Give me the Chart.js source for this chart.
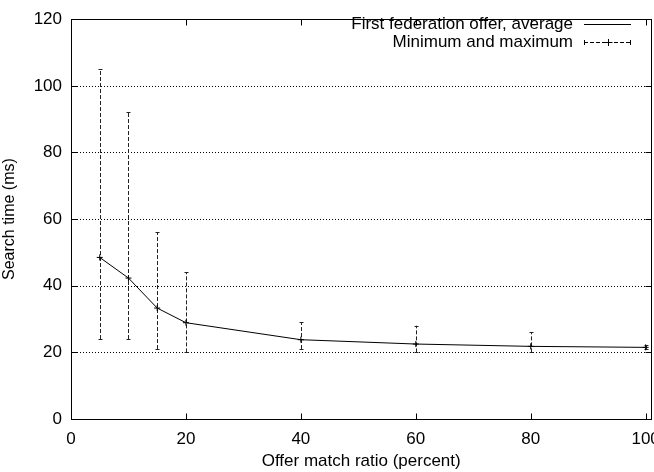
<!DOCTYPE html>
<html>
<head>
<meta charset="utf-8">
<script src="https://cdn.jsdelivr.net/npm/chart.js@4.4.0/dist/chart.umd.min.js"></script>
<style>
  html, body { margin: 0; padding: 0; background: #fff; overflow: hidden; }
  #wrap { width: 670px; height: 472px; }
</style>
</head>
<body>
<div id="wrap"><canvas id="grafico" width="670" height="472"></canvas></div>
<script>
// valores
const ratios = [5, 10, 15, 20, 40, 60, 80, 100];
const avgTime = [48.5, 42.3, 33.3, 28.9, 23.8, 22.5, 21.8, 21.5];
const minTime = [24, 24, 21, 20, 21, 20, 20, 21];
const maxTime = [105, 92, 56, 44, 29, 28, 26, 22.3];
const xTicks = [0, 20, 40, 60, 80, 100];
const yTicks = [0, 20, 40, 60, 80, 100, 120];
const legendLabels = ['First federation offer, average', 'Minimum and maximum'];

const fonte = '"Liberation Sans", Arial, sans-serif';

const molduraPlugin = {
    id: 'moldura',
    beforeDatasetsDraw(chart) {
        const ctx = chart.ctx;
        const a = chart.chartArea;
        const y = chart.scales.y;
        ctx.save();
        ctx.strokeStyle = '#000';
        ctx.lineWidth = 1;
        ctx.setLineDash([1, 2]);
        yTicks.forEach(v => {
            if (v === 0 || v === 120) return;
            const py = Math.round(y.getPixelForValue(v)) + 0.5;
            ctx.beginPath();
            ctx.moveTo(a.left, py);
            ctx.lineTo(a.right, py);
            ctx.stroke();
        });
        ctx.restore();

        // barras de erro
        const x = chart.scales.x;
        ctx.save();
        ctx.strokeStyle = '#222';
        ctx.lineWidth = 1;
        ratios.forEach((r, i) => {
            const px = Math.round(x.getPixelForValue(r)) + 0.5;
            const pMin = y.getPixelForValue(minTime[i]);
            const pMax = y.getPixelForValue(maxTime[i]);
            ctx.setLineDash([4, 2]);
            ctx.beginPath();
            ctx.moveTo(px, pMin);
            ctx.lineTo(px, pMax);
            ctx.stroke();
            ctx.setLineDash([]);
            ctx.beginPath();
            ctx.moveTo(px - 2, Math.round(pMin) + 0.5);
            ctx.lineTo(px + 2, Math.round(pMin) + 0.5);
            ctx.moveTo(px - 2, Math.round(pMax) + 0.5);
            ctx.lineTo(px + 2, Math.round(pMax) + 0.5);
            ctx.stroke();
        });
        ctx.restore();
    },
    afterDraw(chart) {
        const ctx = chart.ctx;
        const a = chart.chartArea;
        const x = chart.scales.x;
        const y = chart.scales.y;
        ctx.save();
        ctx.strokeStyle = '#000';
        ctx.lineWidth = 1;
        ctx.setLineDash([]);
        const l = Math.round(a.left) + 0.5, r = Math.round(a.right) + 0.5;
        const t = Math.round(a.top) + 0.5, b = Math.round(a.bottom) + 0.5;
        ctx.strokeRect(l, t, r - l, b - t);
        const tl = 6;
        ctx.beginPath();
        xTicks.forEach(v => {
            const px = Math.round(x.getPixelForValue(v)) + 0.5;
            ctx.moveTo(px, b); ctx.lineTo(px, b - tl);
            ctx.moveTo(px, t); ctx.lineTo(px, t + tl);
        });
        yTicks.forEach(v => {
            const py = Math.round(y.getPixelForValue(v)) + 0.5;
            ctx.moveTo(l, py); ctx.lineTo(l + tl, py);
            ctx.moveTo(r, py); ctx.lineTo(r - tl, py);
        });
        ctx.stroke();

        // legenda
        ctx.font = '17px ' + fonte;
        ctx.fillStyle = '#000';
        ctx.textAlign = 'right';
        ctx.textBaseline = 'middle';
        const tx = 573, y1 = 24, y2 = 42, s0 = 584, s1 = 631;
        ctx.fillText(legendLabels[0], tx, y1);
        ctx.fillText(legendLabels[1], tx, y2);
        ctx.beginPath();
        ctx.moveTo(s0, y1 + 0.5); ctx.lineTo(s1, y1 + 0.5);
        ctx.stroke();
        ctx.setLineDash([4, 2]);
        ctx.beginPath();
        ctx.moveTo(s0, y2 + 0.5); ctx.lineTo(s1, y2 + 0.5);
        ctx.stroke();
        ctx.setLineDash([]);
        const mid = Math.round((s0 + s1) / 2) + 0.5;
        ctx.beginPath();
        ctx.moveTo(s0 + 0.5, y2 - 2); ctx.lineTo(s0 + 0.5, y2 + 3);
        ctx.moveTo(s1 - 0.5, y2 - 2); ctx.lineTo(s1 - 0.5, y2 + 3);
        ctx.moveTo(mid, y2 - 3); ctx.lineTo(mid, y2 + 4);
        ctx.moveTo(mid - 3, y2 + 0.5); ctx.lineTo(mid + 4, y2 + 0.5);
        ctx.stroke();
        ctx.restore();
    }
};

const ctx = document.getElementById('grafico').getContext('2d');
new Chart(ctx, {
    type: 'line',
    data: {
        datasets: [{
            label: legendLabels[0],
            data: ratios.map((r, i) => ({ x: r, y: avgTime[i] })),
            borderColor: '#000',
            borderWidth: 1,
            pointRadius: 0,
            fill: false,
            tension: 0
        }, {
            label: legendLabels[1],
            data: ratios.map((r, i) => ({ x: r, y: avgTime[i] })),
            showLine: false,
            pointStyle: 'cross',
            pointRadius: 3,
            borderColor: '#000',
            borderWidth: 1
        }]
    },
    plugins: [molduraPlugin],
    options: {
        responsive: false,
        animation: false,
        devicePixelRatio: 1,
        layout: { padding: { left: 0, top: 9, right: 18, bottom: 0 } },
        plugins: { legend: { display: false }, tooltip: { enabled: false } },
        scales: {
            x: {
                type: 'linear',
                min: 0,
                max: 101,
                afterBuildTicks: s => { s.ticks = xTicks.map(v => ({ value: v })); },
                afterFit: s => { s.height = 53; },
                grid: { display: false, drawTicks: false },
                border: { display: false },
                ticks: { color: '#000', padding: 10, maxRotation: 0, font: { family: fonte, size: 17 } },
                title: {
                    display: true,
                    text: 'Offer match ratio (percent)',
                    color: '#000',
                    padding: { top: 0, bottom: 0 },
                    font: { family: fonte, size: 17 }
                }
            },
            y: {
                min: 0,
                max: 120,
                afterBuildTicks: s => { s.ticks = yTicks.map(v => ({ value: v })); },
                afterFit: s => { s.width = 71; },
                grid: { display: false, drawTicks: false },
                border: { display: false },
                ticks: { color: '#000', padding: 9, font: { family: fonte, size: 17 } },
                title: {
                    display: true,
                    text: 'Search time (ms)',
                    color: '#000',
                    padding: { top: 0, bottom: 0 },
                    font: { family: fonte, size: 16 }
                }
            }
        }
    }
});
</script>
</body>
</html>
